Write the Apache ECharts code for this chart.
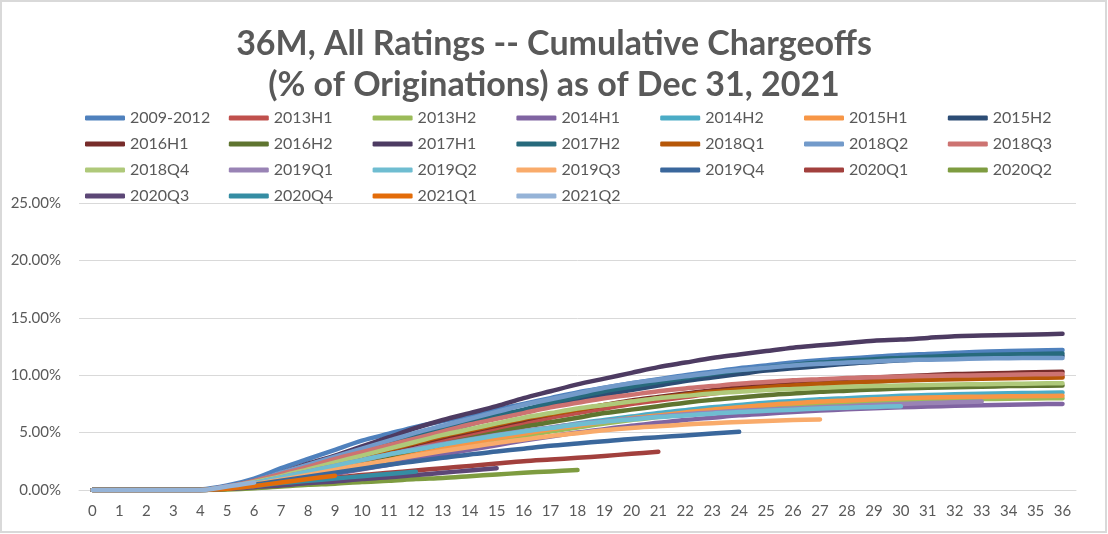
<!DOCTYPE html>
<html>
<head>
<meta charset="utf-8">
<script src="https://cdn.jsdelivr.net/npm/echarts@6/dist/echarts.min.js"></script>
<style>
html,body{margin:0;padding:0;background:#fff;}
#chart{width:1108px;height:534px;}
</style>
</head>
<body>
<div id="chart"></div>
<script>
// ---- Data (cumulative chargeoffs, % of originations, by months since origination) ----
const months = ['0','1','2','3','4','5','6','7','8','9','10','11','12','13','14','15','16','17','18','19','20','21','22','23','24','25','26','27','28','29','30','31','32','33','34','35','36'];
const yTicks = [0, 5, 10, 15, 20, 25];

const names = ['2009-2012','2013H1','2013H2','2014H1','2014H2','2015H1','2015H2','2016H1','2016H2','2017H1','2017H2','2018Q1','2018Q2','2018Q3','2018Q4','2019Q1','2019Q2','2019Q3','2019Q4','2020Q1','2020Q2','2020Q3','2020Q4','2021Q1','2021Q2'];

const v2009_2012 = [0,0,0,0,0.05,0.4,1.0,1.9,2.7,3.5,4.3,4.9,5.5,6.0,6.5,7.0,7.5,8.0,8.5,8.9,9.3,9.65,10.0,10.3,10.6,10.85,11.1,11.3,11.45,11.6,11.75,11.85,11.95,12.05,12.1,12.15,12.2];
const v2013H1 = [0,0,0,0,0,0.15,0.5,1.0,1.5,2.0,2.6,3.2,3.8,4.3,4.8,5.3,5.8,6.3,6.7,7.1,7.5,7.8,8.1,8.4,8.65,8.85,9.05,9.2,9.35,9.45,9.55,9.65,9.72,9.78,9.83,9.87,9.9];
const v2013H2 = [0,0,0,0,0,0.1,0.35,0.7,1.1,1.5,2.0,2.5,3.0,3.4,3.9,4.3,4.7,5.1,5.45,5.8,6.1,6.35,6.6,6.85,7.05,7.2,7.35,7.5,7.6,7.7,7.77,7.83,7.88,7.92,7.95,7.98,8.0];
const v2014H1 = [0,0,0,0,0,0.1,0.3,0.65,1.0,1.4,1.8,2.2,2.65,3.1,3.5,3.9,4.3,4.65,5.0,5.3,5.6,5.85,6.1,6.3,6.5,6.65,6.8,6.92,7.03,7.12,7.2,7.27,7.33,7.38,7.43,7.47,7.5];
const v2014H2 = [0,0,0,0,0,0.1,0.4,0.8,1.2,1.7,2.2,2.7,3.2,3.7,4.2,4.6,5.0,5.4,5.8,6.1,6.4,6.7,6.95,7.2,7.4,7.6,7.75,7.9,8.0,8.1,8.2,8.27,8.33,8.38,8.42,8.46,8.5];
const v2015H1 = [0,0,0,0,0,0.1,0.4,0.8,1.2,1.7,2.2,2.7,3.2,3.6,4.1,4.5,4.9,5.3,5.6,5.95,6.25,6.5,6.75,7.0,7.2,7.4,7.55,7.7,7.8,7.9,8.0,8.05,8.1,8.13,8.16,8.18,8.2];
const v2015H2 = [0,0,0,0,0,0.2,0.6,1.2,1.8,2.5,3.2,3.9,4.5,5.1,5.7,6.3,6.8,7.3,7.8,8.3,8.7,9.1,9.5,9.8,10.1,10.4,10.6,10.8,11.0,11.15,11.3,11.4,11.5,11.55,11.6,11.65,11.7];
const v2016H1 = [0,0,0,0,0,0.15,0.5,1.0,1.6,2.2,2.8,3.4,4.0,4.6,5.1,5.6,6.1,6.6,7.0,7.4,7.8,8.1,8.4,8.7,8.95,9.2,9.4,9.55,9.7,9.8,9.9,10.0,10.1,10.15,10.2,10.25,10.3];
const v2016H2 = [0,0,0,0,0,0.15,0.45,0.9,1.4,1.9,2.4,3.0,3.5,4.0,4.5,5.0,5.5,5.9,6.3,6.7,7.0,7.3,7.6,7.85,8.05,8.25,8.4,8.55,8.65,8.75,8.85,8.9,8.95,9.0,9.05,9.08,9.1];
const v2017H1 = [0,0,0,0,0,0.3,0.8,1.5,2.3,3.0,3.8,4.6,5.4,6.1,6.7,7.3,8.0,8.6,9.2,9.7,10.2,10.7,11.1,11.5,11.8,12.1,12.4,12.6,12.8,13.0,13.1,13.25,13.4,13.45,13.5,13.55,13.6];
const v2017H2 = [0,0,0,0,0,0.2,0.6,1.2,1.9,2.6,3.3,4.0,4.7,5.3,5.9,6.5,7.0,7.6,8.1,8.6,9.0,9.4,9.75,10.1,10.4,10.65,10.9,11.1,11.25,11.4,11.5,11.6,11.7,11.75,11.8,11.85,11.9];
const v2018Q1 = [0,0,0,0,0,0.2,0.6,1.1,1.7,2.3,2.9,3.5,4.1,4.7,5.2,5.7,6.2,6.6,7.0,7.4,7.7,8.0,8.3,8.55,8.75,8.95,9.1,9.25,9.35,9.45,9.55,9.6,9.65,9.7,9.74,9.77,9.8];
const v2018Q2 = [0,0,0,0,0,0.3,0.8,1.5,2.2,2.9,3.6,4.3,5.0,5.6,6.2,6.8,7.4,7.9,8.4,8.9,9.3,9.6,9.9,10.2,10.45,10.65,10.85,11.0,11.1,11.2,11.3,11.35,11.4,11.45,11.48,11.5,11.5];
const v2018Q3 = [0,0,0,0,0,0.3,0.8,1.4,2.0,2.7,3.3,3.9,4.5,5.1,5.7,6.2,6.7,7.2,7.6,8.0,8.3,8.6,8.85,9.05,9.25,9.4,9.55,9.65,9.75,9.82,9.88,9.93,9.97,10.0,10.05,10.08,10.1];
const v2018Q4 = [0,0,0,0,0,0.25,0.7,1.2,1.8,2.4,3.0,3.6,4.2,4.8,5.3,5.8,6.3,6.7,7.1,7.4,7.7,8.0,8.2,8.4,8.55,8.7,8.8,8.9,9.0,9.05,9.1,9.15,9.2,9.22,9.25,9.28,9.3];
const v2019Q1 = [0,0,0,0,0,0.2,0.6,1.1,1.6,2.1,2.6,3.1,3.6,4.0,4.4,4.8,5.15,5.45,5.75,6.0,6.2,6.4,6.6,6.75,6.9,7.0,7.1,7.2,7.3,7.4,7.5,7.57,7.64,7.7];
const v2019Q2 = [0,0,0,0,0,0.2,0.6,1.1,1.6,2.1,2.6,3.1,3.5,3.95,4.35,4.75,5.1,5.4,5.7,5.95,6.15,6.35,6.5,6.65,6.8,6.9,7.0,7.1,7.17,7.24,7.3];
const v2019Q3 = [0,0,0,0,0,0.15,0.5,0.9,1.3,1.75,2.2,2.6,3.0,3.4,3.75,4.1,4.4,4.7,4.95,5.2,5.4,5.55,5.7,5.82,5.93,6.02,6.1,6.15];
const v2019Q4 = [0,0,0,0,0,0.15,0.45,0.8,1.15,1.5,1.85,2.2,2.5,2.8,3.1,3.35,3.6,3.85,4.05,4.25,4.45,4.6,4.75,4.92,5.07];
const v2020Q1 = [0,0,0,0,0,0.1,0.3,0.55,0.8,1.05,1.3,1.5,1.7,1.9,2.1,2.3,2.5,2.65,2.8,2.97,3.15,3.33];
const v2020Q2 = [0,0,0,0,0,0.05,0.15,0.3,0.45,0.55,0.7,0.8,0.95,1.05,1.2,1.35,1.5,1.62,1.74];
const v2020Q3 = [0,0,0,0,0,0.1,0.25,0.4,0.6,0.75,0.95,1.1,1.3,1.5,1.7,1.9];
const v2020Q4 = [0,0,0,0,0,0.15,0.35,0.6,0.8,1.0,1.2,1.4,1.6];
const v2021Q1 = [0,0,0,0,0,0.1,0.35,0.65,0.95,1.25];
const v2021Q2 = [0,0,0,0,0,0.3,0.65];

const seriesValues = [v2009_2012,v2013H1,v2013H2,v2014H1,v2014H2,v2015H1,v2015H2,v2016H1,v2016H2,v2017H1,v2017H2,v2018Q1,v2018Q2,v2018Q3,v2018Q4,v2019Q1,v2019Q2,v2019Q3,v2019Q4,v2020Q1,v2020Q2,v2020Q3,v2020Q4,v2021Q1,v2021Q2];

const colors = ['#4F81BD','#C0504D','#9BBB59','#8064A2','#4BACC6','#F79646','#2C4D75','#772C2A','#5F7530','#4D3B62','#276A7C','#B65708','#729ACA','#CD7371','#AFC97A','#9983B5','#6FBDD1','#F9AB6B','#3A679C','#A2403D','#7E9C40','#5C4776','#358DA3','#E36C09','#95B3D7'];

const FONT = 'Lato, "Open Sans", sans-serif';
const GREY = '#595959';

// legend: 7 columns, row-major order
const legendCols = [];
for (let c = 0; c < 7; c++) {
  const col = [];
  for (let r = 0; r < 4; r++) { const k = r * 7 + c; if (k < names.length) col.push(names[k]); }
  legendCols.push(col);
}

const chart = echarts.init(document.getElementById('chart'), null, {renderer: 'canvas'});
chart.setOption({
  animation: false,
  color: colors,
  title: {
    text: '36M, All Ratings -- Cumulative Chargeoffs\n(% of Originations) as of Dec 31, 2021',
    left: 'center',
    top: 19,
    textStyle: {fontFamily: FONT, fontSize: 34, fontWeight: 'bold', color: GREY, lineHeight: 41}
  },
  legend: legendCols.map((col, i) => ({
    orient: 'vertical',
    left: 80 + i * 143.8,
    top: 105,
    itemWidth: 40,
    itemHeight: 5,
    itemGap: 10,
    icon: 'roundRect',
    selectedMode: false,
    data: col,
    textStyle: {fontFamily: FONT, fontSize: 16, color: GREY, lineHeight: 14}
  })),
  grid: {left: 79, right: 32, top: 203, bottom: 44, containLabel: false},
  xAxis: {
    type: 'category',
    data: months,
    boundaryGap: true,
    axisLine: {lineStyle: {color: '#d9d9d9', width: 1}},
    axisTick: {show: false},
    axisLabel: {color: GREY, fontFamily: FONT, fontSize: 15, margin: 14, interval: 0}
  },
  yAxis: {
    type: 'value',
    min: yTicks[0],
    max: yTicks[yTicks.length - 1],
    interval: yTicks[1] - yTicks[0],
    axisLine: {show: false},
    axisTick: {show: false},
    axisLabel: {color: GREY, fontFamily: FONT, fontSize: 15, margin: 18, formatter: v => v.toFixed(2) + '%'},
    splitLine: {lineStyle: {color: '#d9d9d9', width: 1}}
  },
  graphic: [{
    type: 'rect',
    shape: {x: 1, y: 1, width: 1105, height: 531},
    style: {fill: 'none', stroke: '#d9d9d9', lineWidth: 2},
    silent: true
  }],
  series: names.map((n, i) => ({
    name: n,
    type: 'line',
    data: seriesValues[i],
    symbol: 'none',
    showSymbol: false,
    smooth: 0.3,
    lineStyle: {width: 4.5, color: colors[i], cap: 'round', join: 'round'},
    itemStyle: {color: colors[i]}
  }))
});
</script>
</body>
</html>
